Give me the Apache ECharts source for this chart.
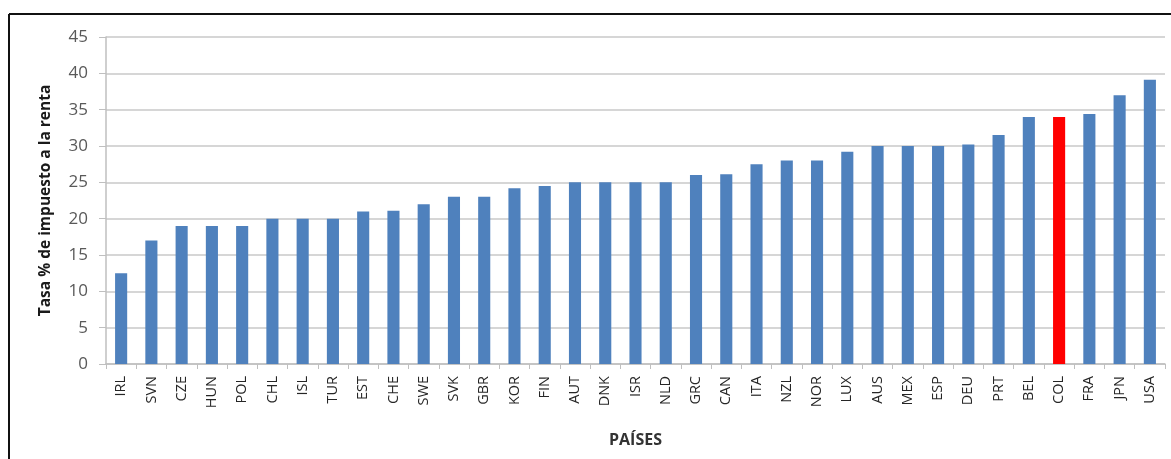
<!DOCTYPE html>
<html>
<head>
<meta charset="utf-8">
<script src="https://cdn.jsdelivr.net/npm/echarts@6/dist/echarts.min.js"></script>
<style>
html,body{margin:0;padding:0;background:#fff;}
#chart{width:1171px;height:459px;}
</style>
</head>
<body>
<div id="chart"></div>
<script>
const categories = ['IRL','SVN','CZE','HUN','POL','CHL','ISL','TUR','EST','CHE','SWE','SVK','GBR','KOR','FIN','AUT','DNK','ISR','NLD','GRC','CAN','ITA','NZL','NOR','LUX','AUS','MEX','ESP','DEU','PRT','BEL','COL','FRA','JPN','USA'];
const values = [12.5,17,19,19,19,20,20,20,21,21.1,22,23,23,24.2,24.5,25,25,25,25,26,26.1,27.5,28,28,29.2,30,30,30,30.2,31.5,34,34,34.4,37,39.1];
const highlight = 'COL';
const yTicks = {min:0, max:45, interval:5};
const yTitle = 'Tasa % de impuesto a la renta';
const xTitle = 'PAÍSES';

const chart = echarts.init(document.getElementById('chart'));
const font = '"Open Sans", "Liberation Sans", sans-serif';
chart.setOption({
  animation:false,
  backgroundColor:'#fff',
  grid:{left:106, right:6, top:37, bottom:95, containLabel:false},
  graphic:[
    {type:'line', shape:{x1:9,y1:14,x2:1171,y2:14}, style:{stroke:'#111',lineWidth:2}},
    {type:'line', shape:{x1:9,y1:14,x2:9,y2:459}, style:{stroke:'#111',lineWidth:2}}
  ],
  xAxis:{
    type:'category',
    data:categories,
    name:xTitle,
    nameLocation:'middle',
    nameGap:68,
    nameTextStyle:{fontFamily:font, fontWeight:'bold', fontSize:16, color:'#333'},
    axisLine:{lineStyle:{color:'#bfbfbf', width:1.5}},
    axisTick:{show:true, length:5, lineStyle:{color:'#bfbfbf'}},
    axisLabel:{rotate:90, interval:0, margin:12, fontFamily:font, fontSize:14.5, color:'#262626'}
  },
  yAxis:{
    type:'value',
    min:yTicks.min, max:yTicks.max, interval:yTicks.interval,
    name:yTitle,
    nameLocation:'middle',
    nameGap:52,
    nameTextStyle:{fontFamily:font, fontWeight:'bold', fontSize:15.5, color:'#1a1a1a'},
    axisLine:{show:true, lineStyle:{color:'#bfbfbf', width:1.5}},
    axisTick:{show:true, length:7, lineStyle:{color:'#bfbfbf'}},
    axisLabel:{margin:18, fontFamily:font, fontSize:17, color:'#595959'},
    splitLine:{show:true, lineStyle:{color:'#c8c8c8', width:1.5}}
  },
  series:[{
    type:'bar',
    data:values.map((v,i)=>({value:v, itemStyle:{color: categories[i]===highlight ? '#ff0000' : '#4f81bd'}})),
    barWidth:'40%'
  }]
});
</script>
</body>
</html>
